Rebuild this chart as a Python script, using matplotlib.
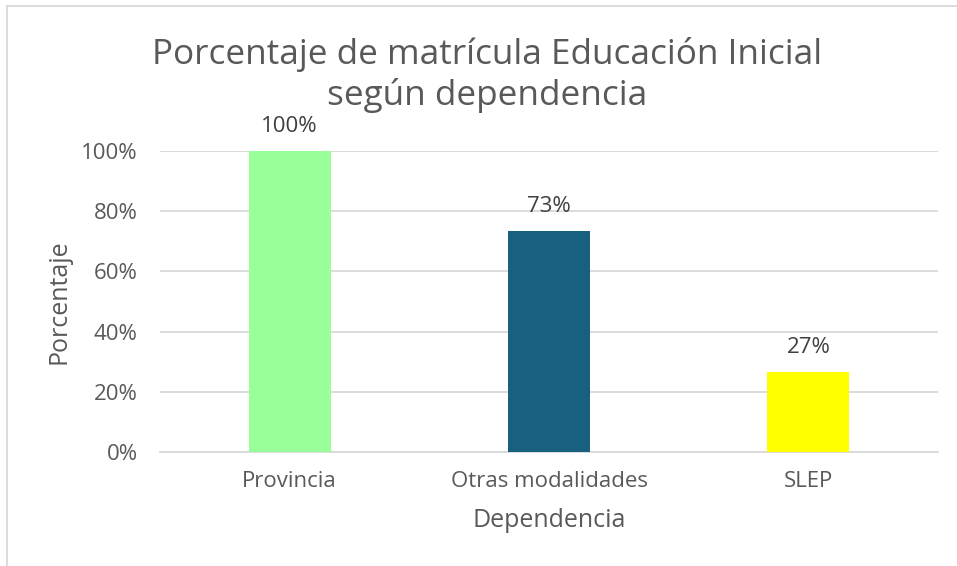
import matplotlib.pyplot as plt
from matplotlib.ticker import PercentFormatter

# data
categorias = ["Provincia", "Otras modalidades", "SLEP"]
porcentajes = [1.00, 0.733, 0.267]
etiquetas = ["100%", "73%", "27%"]
colores = ["#99FF99", "#17607F", "#FFFF00"]

texto = "#595959"
grilla = "#D9D9D9"

plt.rcParams['font.family'] = ['Open Sans', 'DejaVu Sans']

fig = plt.figure(figsize=(9.57, 5.66), dpi=100)
ax = fig.add_axes([0.1672, 0.2014, 0.8130, 0.5318])

x = range(len(categorias))
bars = ax.bar(x, porcentajes, width=0.316, color=colores, zorder=3)

for b, lab in zip(bars, etiquetas):
    ax.annotate(lab, (b.get_x() + b.get_width() / 2, b.get_height()),
                xytext=(0, 10), textcoords="offset points",
                ha="center", va="bottom", fontsize=16, color="#404040")

ax.set_xlim(-0.5, 2.5)
ax.set_ylim(0, 1)
ax.set_yticks([0, 0.2, 0.4, 0.6, 0.8, 1.0])
ax.yaxis.set_major_formatter(PercentFormatter(1.0, decimals=0))
ax.set_xticks(list(x))
ax.set_xticklabels(categorias)
ax.tick_params(axis="both", length=0, labelsize=16, labelcolor=texto)
ax.tick_params(axis="x", pad=14)
ax.tick_params(axis="y", pad=16)

ax.grid(axis="y", color=grilla, linewidth=1.3, zorder=0)
for s in ["top", "right", "left"]:
    ax.spines[s].set_visible(False)
ax.spines["bottom"].set_color(grilla)
ax.spines["bottom"].set_linewidth(1.3)

ax.set_xlabel("Dependencia", fontsize=18, color=texto)
ax.set_ylabel("Porcentaje", fontsize=18, color=texto)
ax.xaxis.set_label_coords(0.5, -0.185)
ax.yaxis.set_label_coords(-0.114, 0.5)

fig.text(0.509, 0.867, "Porcentaje de matrícula Educación Inicial\nsegún dependencia",
         ha="center", va="center", fontsize=25.3, color=texto, linespacing=1.22)

# marco del grafico
fig.add_artist(plt.Line2D([0.0073, 0.0073], [0, 0.989], color="#D9D9D9", lw=1.3))
fig.add_artist(plt.Line2D([0.0073, 1], [0.989, 0.989], color="#D9D9D9", lw=1.3))

fig.savefig("out.png", dpi=100)
